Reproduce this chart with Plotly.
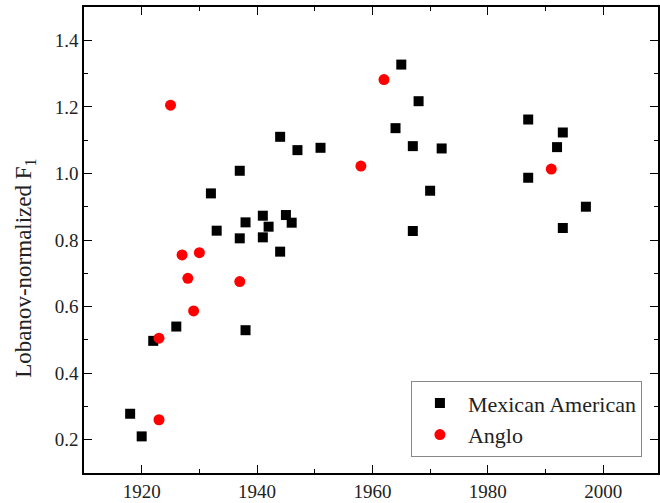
import plotly.graph_objects as go

# Mexican American speakers: birth year vs. normalized F1
mex_years = [1918, 1920, 1922, 1926, 1932, 1933, 1937, 1937, 1938, 1938,
             1941, 1941, 1942, 1944, 1944, 1945, 1946, 1947, 1951, 1964,
             1965, 1967, 1967, 1968, 1970, 1972, 1987, 1987, 1992, 1993,
             1993, 1997]
mex_f1 = [0.278, 0.210, 0.497, 0.540, 0.940, 0.828, 1.008, 0.805, 0.853, 0.529,
          0.873, 0.808, 0.840, 1.110, 0.765, 0.875, 0.852, 1.070, 1.077, 1.136,
          1.327, 1.082, 0.827, 1.217, 0.948, 1.075, 1.162, 0.987, 1.079, 1.123,
          0.836, 0.900]

# Anglo speakers
anglo_years = [1923, 1923, 1925, 1927, 1928, 1929, 1930, 1937, 1958, 1962, 1991]
anglo_f1 = [0.260, 0.505, 1.205, 0.755, 0.685, 0.587, 0.762, 0.675, 1.022, 1.282, 1.013]

x_ticks = [1920, 1940, 1960, 1980, 2000]
y_ticks = [0.2, 0.4, 0.6, 0.8, 1.0, 1.2, 1.4]

FONT = "Liberation Serif"

fig = go.Figure()
fig.add_trace(go.Scatter(
    x=mex_years, y=mex_f1, mode="markers", name="Mexican American",
    marker=dict(symbol="square", size=10, color="black", line=dict(width=0)),
))
fig.add_trace(go.Scatter(
    x=anglo_years, y=anglo_f1, mode="markers", name="Anglo",
    marker=dict(symbol="circle", size=11, color="#ff0000", line=dict(width=0)),
))

axis_common = dict(
    showline=True, linecolor="black", linewidth=1.6, mirror="ticks",
    ticks="inside", ticklen=8, tickwidth=1.4, tickcolor="black",
    showgrid=False, zeroline=False,
    tickfont=dict(family=FONT, size=19, color="#222"),
)

fig.update_xaxes(
    range=[1910, 2009.5], tickvals=x_ticks, ticktext=[str(v) for v in x_ticks],
    minor=dict(dtick=10, tick0=1910, ticks="inside", ticklen=4, tickwidth=1.2,
               tickcolor="black", showgrid=False),
    **axis_common,
)
fig.update_yaxes(
    range=[0.1, 1.5], tickvals=y_ticks, ticktext=[f"{v:.1f}" for v in y_ticks],
    minor=dict(dtick=0.1, tick0=0.1, ticks="inside", ticklen=4, tickwidth=1.2,
               tickcolor="black", showgrid=False),
    **axis_common,
)

# vertical y-axis title, set slightly below the axis midpoint
fig.add_annotation(
    text="Lobanov-normalized F<sub>1</sub>",
    xref="paper", yref="paper", x=-0.103, y=0.44,
    xanchor="center", yanchor="middle", textangle=-90, showarrow=False,
    font=dict(family=FONT, size=23, color="#222"),
)

fig.update_layout(
    width=660, height=503,
    margin=dict(l=84, r=0, t=7, b=30),
    plot_bgcolor="white", paper_bgcolor="white",
    font=dict(family=FONT, color="#222"),
    showlegend=True,
    legend=dict(
        x=0.972, y=0.034, xanchor="right", yanchor="bottom",
        bgcolor="white", bordercolor="#888", borderwidth=1,
        font=dict(family=FONT, size=22, color="#222"),
        tracegroupgap=0, itemsizing="trace", itemwidth=46,
    ),
)

fig.write_html("out.html")
